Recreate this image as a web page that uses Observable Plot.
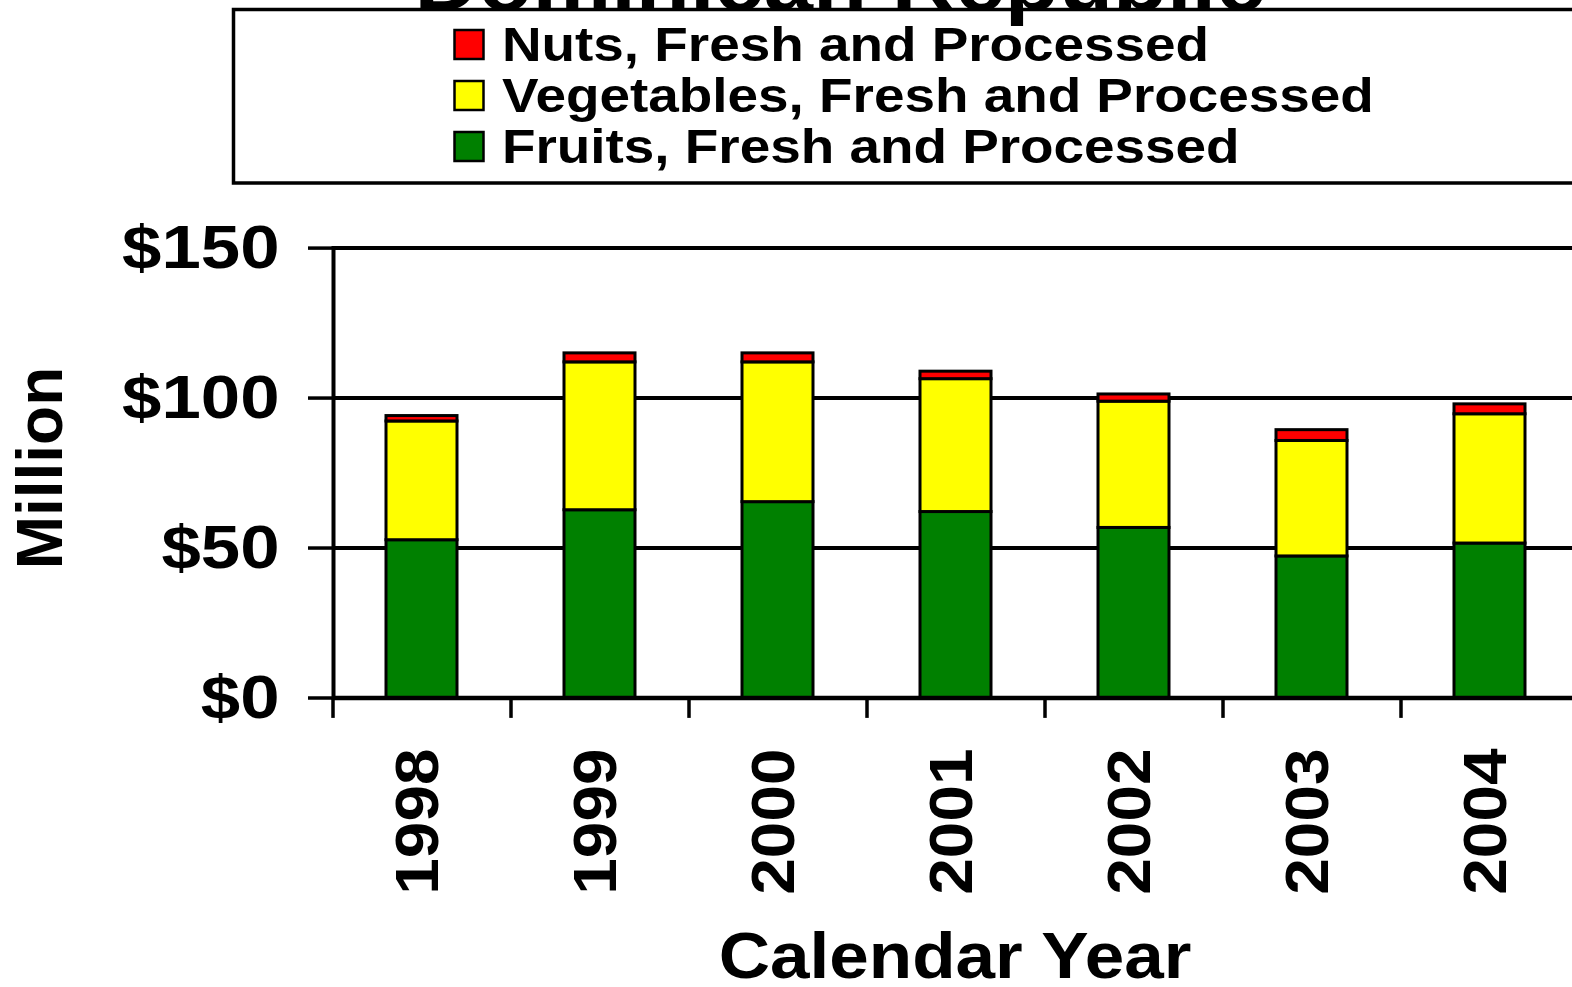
<!DOCTYPE html>
<html>
<head>
<meta charset="utf-8">
<script src="https://cdn.jsdelivr.net/npm/d3@7"></script>
<script src="https://cdn.jsdelivr.net/npm/@observablehq/plot@0.6"></script>
<style>
  html, body { margin: 0; padding: 0; overflow: hidden; background: #fff; }
  #wrap { position: relative; width: 1572px; height: 987px; overflow: hidden; }
  #overlay { position: absolute; left: 0; top: 0; pointer-events: none; }
  #chart { position: absolute; left: 0; top: 0; width: 1590px; }
  #chart svg { max-width: none !important; }
</style>
</head>
<body>
<div id="wrap">
  <div id="chart"></div>
  <svg id="overlay" width="1572" height="987"></svg>
</div>
<script>
// ---- data ----
const years = ["1998", "1999", "2000", "2001", "2002", "2003", "2004"];
const fruits = [52.6, 62.6, 65.3, 62.0, 56.7, 47.2, 51.5];
const vegetables = [39.6, 49.3, 46.6, 44.3, 42.1, 38.5, 43.1];
const nuts = [1.8, 3.0, 3.0, 2.5, 2.4, 3.6, 3.3];
const seriesNames = ["Fruits, Fresh and Processed", "Vegetables, Fresh and Processed", "Nuts, Fresh and Processed"];
const seriesColors = ["#008000", "#FFFF00", "#FF0000"];
const yTicks = [0, 50, 100, 150];
const gridValues = [50, 100, 150];
const title = "Dominican Republic";
const xTitle = "Calendar Year";
const yTitle = "Million";

const seriesValues = [fruits, vegetables, nuts];
const rows = [];
seriesValues.forEach((vals, s) => {
  years.forEach((yr, i) => rows.push({year: yr, series: seriesNames[s], value: vals[i]}));
});

const FONT = "'Liberation Sans', Arial, Helvetica, sans-serif";
const W = 1583.5, H = 987;
const mL = 333, mR = 4.5, mT = 247.6, mB = 289.5;
const step = (W - mL - mR) / years.length;

const plot = Plot.plot({
  width: W,
  height: H,
  marginLeft: mL,
  marginRight: mR,
  marginTop: mT,
  marginBottom: mB,
  style: {fontFamily: FONT, fontWeight: "bold", background: "transparent", overflow: "visible", maxWidth: "none"},
  x: {domain: years, paddingInner: 0.6, paddingOuter: 0.3, axis: null},
  y: {domain: [0, 150], axis: null},
  color: {domain: seriesNames, range: seriesColors},
  marks: [
    Plot.ruleY(gridValues, {stroke: "black", strokeWidth: 4}),
    Plot.barY(rows, {x: "year", y: "value", fill: "series", stroke: "black", strokeWidth: 3}),
    Plot.ruleY([0], {stroke: "black", strokeWidth: 4.5}),
    Plot.frame({anchor: "left", stroke: "black", strokeWidth: 4}),
    Plot.ruleX(years, {x: d => d, dx: -step / 2, y1: 0, y2: -6.8, stroke: "black", strokeWidth: 3.5}),
    Plot.axisY({ticks: yTicks, tickFormat: d => "$" + d, tickSize: 25, tickPadding: 29, fontSize: 61, fontWeight: "bold", stroke: "black", strokeWidth: 3.5, label: null}),
    Plot.text(years, {x: d => d, y: 0, dy: 50.5, dx: -4, rotate: -90, textAnchor: "end", fontSize: 62, fontWeight: "bold", fill: "black"})
  ]
});
plot.style.maxWidth = "none";
document.getElementById("chart").appendChild(plot);

function stretch(sel, sx) {
  sel.each(function() {
    const t = d3.select(this);
    const tr = t.attr("transform");
    if (tr) {
      t.attr("transform", tr + ` scale(${sx},1)`);
    } else {
      const x = +t.attr("x") || 0, y = +t.attr("y") || 0;
      t.attr("x", null).attr("y", null).attr("transform", `translate(${x},${y}) scale(${sx},1)`);
    }
  });
}
// stretch texts along their reading direction to match the reference's wide glyphs
stretch(d3.select(plot).selectAll("g[aria-label='y-axis tick label'] text"), 1.16);
stretch(d3.select(plot).selectAll("g[aria-label='text'] text"), 1.06);

// ---- overlay: title, legend, axis titles ----
const ov = d3.select("#overlay").style("font-family", FONT).style("font-weight", "bold");
ov.append("rect").attr("x", 233.5).attr("y", 9.5).attr("width", 1400).attr("height", 173.5)
  .attr("fill", "none").attr("stroke", "black").attr("stroke-width", 3.5);
ov.append("text").attr("transform", "translate(840,10) scale(1.135,1)")
  .attr("text-anchor", "middle").attr("font-size", 78).attr("fill", "black").text(title);

const legendOrder = [2, 1, 0];
const baselines = [61, 112, 163];
legendOrder.forEach((s, i) => {
  ov.append("rect").attr("x", 454.5).attr("y", baselines[i] - 31).attr("width", 29).attr("height", 29)
    .attr("fill", seriesColors[s]).attr("stroke", "black").attr("stroke-width", 2.5);
  ov.append("text").attr("transform", `translate(502,${baselines[i]}) scale(1.155,1)`)
    .attr("font-size", 47.5).attr("fill", "black").text(seriesNames[s]);
});

ov.append("text").attr("transform", "translate(955,978) scale(1.11,1)")
  .attr("text-anchor", "middle").attr("font-size", 64).attr("fill", "black").text(xTitle);
ov.append("text").attr("transform", "translate(62,468) rotate(-90)")
  .attr("text-anchor", "middle").attr("font-size", 64).attr("fill", "black").text(yTitle);
</script>
</body>
</html>
